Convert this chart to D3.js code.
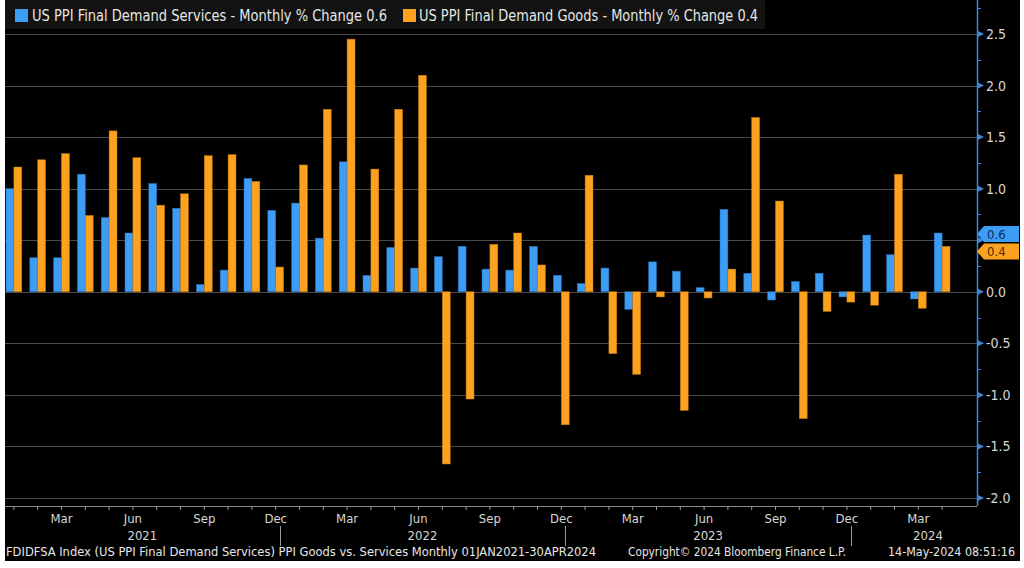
<!DOCTYPE html>
<html><head><meta charset="utf-8">
<script src="https://cdn.jsdelivr.net/npm/d3@7"></script>
<style>
html,body{margin:0;padding:0;background:#fff;}
svg{display:block;}
text{font-family:'DejaVu Sans Condensed','DejaVu Sans',sans-serif;font-stretch:condensed;}
</style></head><body>
<svg id="chart" width="1024" height="568"></svg>
<script>
const months = [
 "Jan 2021","Feb 2021","Mar 2021","Apr 2021","May 2021","Jun 2021","Jul 2021","Aug 2021","Sep 2021","Oct 2021","Nov 2021","Dec 2021",
 "Jan 2022","Feb 2022","Mar 2022","Apr 2022","May 2022","Jun 2022","Jul 2022","Aug 2022","Sep 2022","Oct 2022","Nov 2022","Dec 2022",
 "Jan 2023","Feb 2023","Mar 2023","Apr 2023","May 2023","Jun 2023","Jul 2023","Aug 2023","Sep 2023","Oct 2023","Nov 2023","Dec 2023",
 "Jan 2024","Feb 2024","Mar 2024","Apr 2024"];
const services = [
 1.00,0.33,0.33,1.14,0.72,0.57,1.05,0.81,0.07,0.21,1.10,0.79,
 0.86,0.52,1.26,0.16,0.43,0.23,0.34,0.44,0.22,0.21,0.44,0.16,
 0.08,0.23,-0.17,0.29,0.20,0.04,0.80,0.18,-0.08,0.10,0.18,-0.05,
 0.55,0.36,-0.07,0.57];
const goods = [
 1.21,1.28,1.34,0.74,1.56,1.30,0.84,0.95,1.32,1.33,1.07,0.24,
 1.23,1.77,2.45,1.19,1.77,2.10,-1.67,-1.04,0.46,0.57,0.26,-1.29,
 1.13,-0.60,-0.80,-0.05,-1.15,-0.06,0.22,1.69,0.88,-1.23,-0.19,-0.10,
 -0.13,1.14,-0.16,0.44];
const seriesKeys = ["services","goods"];
const seriesLabels = ["US PPI Final Demand Services - Monthly % Change 0.6","US PPI Final Demand Goods - Monthly % Change 0.4"];
const lastLabels = ["0.6","0.4"];
const yTicks = [-2.0,-1.5,-1.0,-0.5,0.0,0.5,1.0,1.5,2.0,2.5];
const yTickHidden = [0.5]; // covered by last-value labels in the reference
const monthTickLabels = ["Mar","Jun","Sep","Dec"];
const years = ["2021","2022","2023","2024"];
const footerLeft = "FDIDFSA Index (US PPI Final Demand Services) PPI Goods vs. Services  Monthly 01JAN2021-30APR2024";
const footerMid = "Copyright\u00A9 2024 Bloomberg Finance L.P.";
const footerRight = "14-May-2024 08:51:16";

const colors = {services:"#3d9cf4", goods:"#fca21f"};
const strokes = {services:"#2b6fb3", goods:"#c27610"};
const axisBlue = "#3f86d8";

const svg = d3.select("#chart");
const plotLeft = 5, axisX = 977, xAxisY = 506;

svg.append("rect").attr("x",5).attr("y",0).attr("width",1015).attr("height",561).attr("fill","#000");

const y = d3.scaleLinear().domain([-2,2.5]).range([498,34]);
const x0 = d3.scaleBand().domain(months).range([2,954]).padding(0);
const x1 = d3.scaleBand().domain(seriesKeys).range([4, x0.bandwidth()-4]).padding(0);

// gridlines
svg.append("g").selectAll("line").data(yTicks).join("line")
  .attr("x1",plotLeft).attr("x2",axisX)
  .attr("y1",d=>Math.round(y(d))+0.5).attr("y2",d=>Math.round(y(d))+0.5)
  .attr("stroke","#4a4a4a").attr("stroke-width",1);

// bars
const data = months.map((m,i)=>({month:m, services:services[i], goods:goods[i]}));
const groups = svg.append("g").selectAll("g").data(data).join("g")
  .attr("transform",d=>`translate(${x0(d.month)},0)`);
groups.selectAll("rect").data(d=>seriesKeys.map(k=>({key:k, value:d[k]}))).join("rect")
  .attr("x",d=>x1(d.key)).attr("width",x1.bandwidth())
  .attr("y",d=>y(Math.max(0,d.value)))
  .attr("height",d=>Math.abs(y(d.value)-y(0)))
  .attr("fill",d=>colors[d.key]).attr("stroke",d=>strokes[d.key]).attr("stroke-width",0.5);

// x axis
svg.append("line").attr("x1",plotLeft).attr("x2",axisX).attr("y1",xAxisY+0.5).attr("y2",xAxisY+0.5)
  .attr("stroke","#8a8a8a").attr("stroke-width",1);
const xAxis = d3.axisBottom(x0).tickSize(4).tickPadding(4)
  .tickFormat(d=>{const n=d.split(" ")[0]; return monthTickLabels.includes(n)?n:"";});
const gx = svg.append("g").attr("transform",`translate(0,${xAxisY})`).call(xAxis);
gx.select(".domain").remove();
gx.selectAll(".tick line").attr("stroke","#9a9a9a");
gx.selectAll(".tick text").attr("fill","#d6d6d6").attr("font-size",13)
  .attr("font-family","'DejaVu Sans Condensed','DejaVu Sans',sans-serif");

// year separators and labels
const decX = years.slice(0,3).map(yr=>x0("Dec "+yr)+x0.bandwidth()/2+4);
svg.append("g").selectAll("line").data(decX).join("line")
  .attr("x1",d=>Math.round(d)+0.5).attr("x2",d=>Math.round(d)+0.5).attr("y1",526).attr("y2",546)
  .attr("stroke","#9a9a9a");
const bounds = [plotLeft, ...decX, 1005];
svg.append("g").selectAll("text").data(years).join("text")
  .attr("x",(d,i)=>(bounds[i]+bounds[i+1])/2).attr("y",540)
  .attr("text-anchor","middle").attr("fill","#d6d6d6").attr("font-size",13).text(d=>d);

// right axis
svg.append("line").attr("x1",axisX+0.5).attr("x2",axisX+0.5).attr("y1",0).attr("y2",xAxisY)
  .attr("stroke",axisBlue).attr("stroke-width",1.5);
const minor = d3.range(-2,2.8,0.25).filter(v=>Math.abs(v*2-Math.round(v*2))>0.01);
svg.append("g").selectAll("line").data(minor).join("line")
  .attr("x1",axisX).attr("x2",axisX+4).attr("y1",d=>Math.round(y(d))+0.5).attr("y2",d=>Math.round(y(d))+0.5)
  .attr("stroke",axisBlue);
svg.append("g").selectAll("path").data(yTicks).join("path")
  .attr("d",d=>{const yy=y(d);return `M${axisX},${yy-3.5}L${axisX+7},${yy}L${axisX},${yy+3.5}Z`;})
  .attr("fill",axisBlue);
const yAxis = d3.axisRight(y).tickValues(yTicks.filter(v=>!yTickHidden.includes(v)))
  .tickSize(0).tickPadding(9).tickFormat(d=>d.toFixed(1));
const gy = svg.append("g").attr("transform",`translate(${axisX},0)`).call(yAxis);
gy.select(".domain").remove();
gy.selectAll(".tick text").attr("fill","#d6d6d6").attr("font-size",14)
  .attr("font-family","'DejaVu Sans Condensed','DejaVu Sans',sans-serif");

// last-value labels (goods first so services is drawn on top)
const lastVals = [{key:"goods", v:goods[goods.length-1], t:lastLabels[1], dy:4},{key:"services", v:services[services.length-1], t:lastLabels[0], dy:0}];
lastVals.forEach(o=>{
  const yy = y(o.v)+1+o.dy;
  svg.append("path").attr("d",`M${axisX},${yy}L${axisX+7},${yy-8}L1019,${yy-8}L1019,${yy+8}L${axisX+7},${yy+8}Z`)
    .attr("fill",colors[o.key]);
  svg.append("text").attr("x",987).attr("y",yy+4.5).attr("fill", o.key==="services"?"#0d2d57":"#4a2a00")
    .attr("font-size",13).text(o.t);
});

// legend
svg.append("rect").attr("x",5).attr("y",0).attr("width",760).attr("height",29).attr("fill","#121212");
const legX = [15,403], legTX=[32,419], legW=[355,339];
seriesKeys.forEach((k,i)=>{
  svg.append("rect").attr("x",legX[i]).attr("y",9).attr("width",13).attr("height",13).attr("fill",colors[k]);
  svg.append("text").attr("x",legTX[i]).attr("y",21).attr("fill","#e6e6e6").attr("font-size",15)
    .attr("textLength",legW[i]).attr("lengthAdjust","spacingAndGlyphs").text(seriesLabels[i]);
});

// footer
svg.append("text").attr("x",6).attr("y",556).attr("fill","#e6e6e6").attr("font-size",12)
  .attr("textLength",590).attr("lengthAdjust","spacingAndGlyphs").text(footerLeft);
svg.append("text").attr("x",628).attr("y",556).attr("fill","#e6e6e6").attr("font-size",12)
  .attr("textLength",218).attr("lengthAdjust","spacingAndGlyphs").text(footerMid);
svg.append("text").attr("x",888).attr("y",556).attr("fill","#e6e6e6").attr("font-size",12)
  .attr("textLength",127).attr("lengthAdjust","spacingAndGlyphs").text(footerRight);
</script>
</body></html>
